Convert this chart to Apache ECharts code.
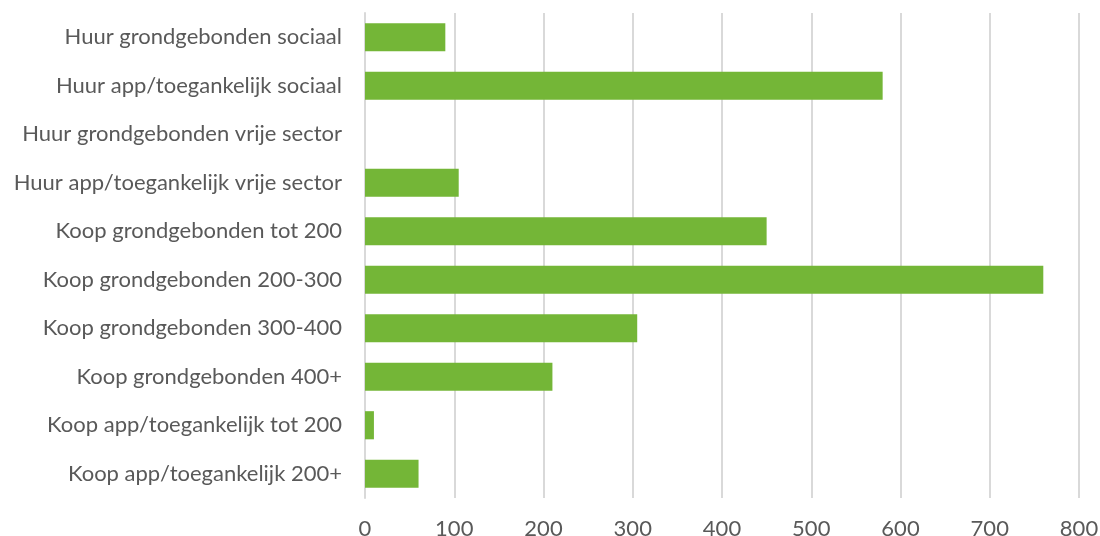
<!DOCTYPE html>
<html><head><meta charset="utf-8">
<script src="https://cdn.jsdelivr.net/npm/echarts@6/dist/echarts.min.js"></script>
<style>html,body{margin:0;padding:0;background:#fff}#c{width:1100px;height:536px}</style>
</head><body><div id="c"></div>
<script>
const categories = [
  "Huur grondgebonden sociaal",
  "Huur app/toegankelijk sociaal",
  "Huur grondgebonden vrije sector",
  "Huur app/toegankelijk vrije sector",
  "Koop grondgebonden tot 200",
  "Koop grondgebonden 200-300",
  "Koop grondgebonden 300-400",
  "Koop grondgebonden 400+",
  "Koop app/toegankelijk tot 200",
  "Koop app/toegankelijk 200+"
];
const values = [90, 580, 0, 105, 450, 760, 305, 210, 10, 60];
const xTicks = [0, 100, 200, 300, 400, 500, 600, 700, 800];

const chart = echarts.init(document.getElementById('c'), null, {renderer: 'canvas'});
chart.setOption({
  animation: false,
  grid: {left: 365, right: 21, top: 13, bottom: 38, containLabel: false, outerBoundsMode: 'none'},
  xAxis: {
    type: 'value', min: xTicks[0], max: xTicks[xTicks.length - 1], interval: 100,
    axisLine: {show: false}, axisTick: {show: false},
    splitLine: {show: true, lineStyle: {color: '#d9d9d9', width: 2}},
    axisLabel: {color: '#595959', fontSize: 22, fontFamily: 'Lato', margin: 20}
  },
  yAxis: {
    type: 'category', data: categories, inverse: true,
    axisLine: {show: true, lineStyle: {color: '#d9d9d9', width: 2}},
    axisTick: {show: false},
    axisLabel: {color: '#595959', fontSize: 22, fontFamily: 'Lato', margin: 23}
  },
  series: [{
    type: 'bar', data: values, barCategoryGap: '42%',
    itemStyle: {color: '#74B637'}
  }]
});
</script></body></html>
